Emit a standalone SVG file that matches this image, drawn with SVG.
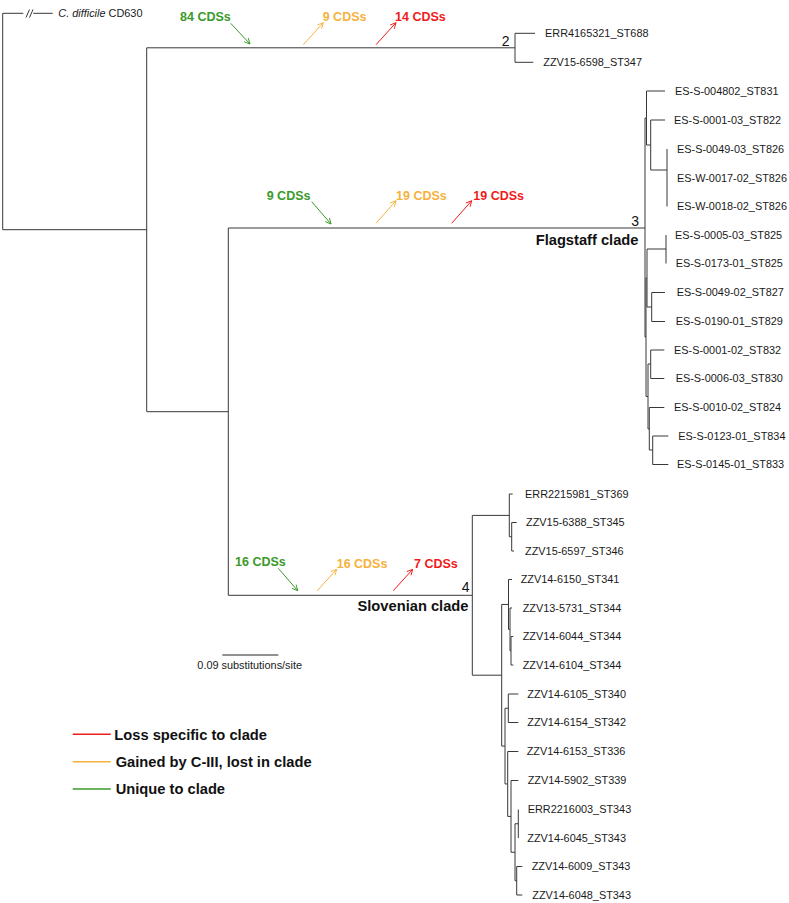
<svg xmlns="http://www.w3.org/2000/svg" width="789" height="903" viewBox="0 0 789 903">
<style>
.t{font-family:"Liberation Sans",Arial,sans-serif;font-size:10.9px;fill:#1a1a1a}
.br{fill:none;stroke:#383838;stroke-width:1}
.num{font-family:"Liberation Sans",Arial,sans-serif;font-size:14px;fill:#111}
.cl{font-family:"Liberation Sans",Arial,sans-serif;font-size:14.7px;font-weight:bold;fill:#111}
.cds{font-family:"Liberation Sans",Arial,sans-serif;font-size:12.5px;font-weight:bold}
.g{fill:#3a9a2a}.o{fill:#f6b23e}.r{fill:#f01b1b}
.ag{stroke:#3a9a2a;stroke-width:1;fill:none}
.ao{stroke:#f6b23e;stroke-width:1;fill:none}
.ar{stroke:#f01b1b;stroke-width:1;fill:none}
</style>
<defs>
<marker id="mg" viewBox="0 0 10 10" refX="9" refY="5" markerWidth="7" markerHeight="7" orient="auto" markerUnits="userSpaceOnUse"><path d="M1 1 L9 5 L1 9" fill="none" stroke="#3a9a2a" stroke-width="1.3"/></marker>
<marker id="mo" viewBox="0 0 10 10" refX="9" refY="5" markerWidth="7" markerHeight="7" orient="auto" markerUnits="userSpaceOnUse"><path d="M1 1 L9 5 L1 9" fill="none" stroke="#f6b23e" stroke-width="1.3"/></marker>
<marker id="mr" viewBox="0 0 10 10" refX="9" refY="5" markerWidth="7" markerHeight="7" orient="auto" markerUnits="userSpaceOnUse"><path d="M1 1 L9 5 L1 9" fill="none" stroke="#f01b1b" stroke-width="1.3"/></marker>
</defs>
<rect width="789" height="903" fill="#fff"/>

<g id="connectors">
<path class="br" d="M2.7 13.3 H23.3 M33.3 13.3 H52.7 M26 17.5 L29.5 9.5 M29.5 17.5 L33 9.5 M2.7 13.3 V229.7 H146.7 M146.7 47.8 V411.7 M146.7 47.8 H515 M515 33.3 V62.3 M515 33.3 H535 M515 62.3 H533.3 M146.7 411.7 H228.3 M228.3 228 V595.3 M228.3 228 H645 M228.3 595.3 H472.3"/>
<path class="br" d="M645 118 V337 M645 118 H646.5 M646.5 91 V145 M646.5 91 H665 M646.5 145 H650.7 M650.7 120 V170 M650.7 120 H665 M650.7 170 H667 M667 149 V206.5 M645 337 H646 M646 278 V396.5 M646 278 H647 M647 249 V307 M647 249 H666 M666 235 V263.5 M647 307 H651.7 M651.7 292.5 V321.5 M651.7 292.5 H665 M651.7 321.5 H665 M646 396.5 H648 M648 364 V429 M648 364 H650.7 M650.7 350 V378.5 M650.7 350 H664.3 M650.7 378.5 H664.3 M648 429 H649.3 M649.3 407.5 V450 M649.3 407.5 H664.3 M649.3 450 H652.7 M652.7 436 V464.5 M652.7 436 H668.3 M652.7 464.5 H668.3"/>
<path class="br" d="M472.3 515.4 V675.2 M472.3 515.4 H509.3 M509.3 494 V536.75 M509.3 494 H512.7 M509.3 536.75 H511.7 M511.7 522.5 V551 M511.7 522.5 H516.7 M511.7 551 H514 M472.3 675.2 H501.7 M501.7 604.45 V746.1 M501.7 604.45 H508.5 M508.5 579.5 V629.4 M508.5 579.5 H512 M508.5 629.4 H510 M510 608 V650.75 M510 608 H512 M510 650.75 H511 M511 636.5 V665 M511 636.5 H513.3 M511 665 H513.3 M501.7 746.1 H505 M505 708.25 V783.95 M505 708.25 H508.3 M508.3 694 V722.5 M508.3 694 H518.3 M508.3 722.5 H518.3 M505 783.95 H507.7 M507.7 751.5 V816.4 M507.7 751.5 H518.3 M507.7 816.4 H511 M511 780.5 V852.25 M511 780.5 H518.3 M511 852.25 H515 M515 823.75 V880.75 M515 823.75 H518.3 M518.3 809.5 V838 M515 880.75 H516.7 M516.7 866.5 V895 M516.7 866.5 H522.3 M516.7 895 H522.3"/>
<line class="ag" x1="230.7" y1="23.3" x2="250" y2="44" marker-end="url(#mg)"/>
<line class="ao" x1="303.3" y1="44.7" x2="323.3" y2="22.7" marker-end="url(#mo)"/>
<line class="ar" x1="376" y1="44.7" x2="396" y2="22.7" marker-end="url(#mr)"/>
<line class="ag" x1="311.7" y1="201.7" x2="331" y2="224" marker-end="url(#mg)"/>
<line class="ao" x1="376" y1="223.3" x2="396" y2="200.7" marker-end="url(#mo)"/>
<line class="ar" x1="451.7" y1="223.3" x2="471.7" y2="200.7" marker-end="url(#mr)"/>
<line class="ag" x1="278.3" y1="568.3" x2="297.7" y2="590.7" marker-end="url(#mg)"/>
<line class="ao" x1="317.3" y1="590.7" x2="336.7" y2="569.3" marker-end="url(#mo)"/>
<line class="ar" x1="393.3" y1="590.7" x2="412.7" y2="569.3" marker-end="url(#mr)"/>
</g>

<g id="outgroup"><text class="t" x="58.3" y="17.1"><tspan font-style="italic">C. difficile</tspan> CD630</text></g>

<g id="clade2">
<text class="num" x="509.5" y="46" text-anchor="end">2</text>
<text class="t" x="545" y="37.1">ERR4165321_ST688</text>
<text class="t" x="543.3" y="66.1">ZZV15-6598_ST347</text>
</g>

<g id="clade3">
<text class="num" x="639" y="225.5" text-anchor="end">3</text>
<text class="cl" x="638.5" y="244.5" text-anchor="end">Flagstaff clade</text>
<text class="t" x="675" y="94.8">ES-S-004802_ST831</text>
<text class="t" x="674" y="123.8">ES-S-0001-03_ST822</text>
<text class="t" x="677" y="152.8">ES-S-0049-03_ST826</text>
<text class="t" x="677" y="181.8">ES-W-0017-02_ST826</text>
<text class="t" x="677" y="210.3">ES-W-0018-02_ST826</text>
<text class="t" x="675" y="238.8">ES-S-0005-03_ST825</text>
<text class="t" x="675.7" y="267.3">ES-S-0173-01_ST825</text>
<text class="t" x="676.7" y="296.3">ES-S-0049-02_ST827</text>
<text class="t" x="675.7" y="325.3">ES-S-0190-01_ST829</text>
<text class="t" x="674" y="353.8">ES-S-0001-02_ST832</text>
<text class="t" x="675.7" y="382.3">ES-S-0006-03_ST830</text>
<text class="t" x="674" y="411.3">ES-S-0010-02_ST824</text>
<text class="t" x="678.3" y="439.8">ES-S-0123-01_ST834</text>
<text class="t" x="677" y="468.3">ES-S-0145-01_ST833</text>
</g>

<g id="clade4">
<text class="num" x="469.5" y="592.3" text-anchor="end">4</text>
<text class="cl" x="468.5" y="611" text-anchor="end">Slovenian clade</text>
<text class="t" x="525" y="497.8">ERR2215981_ST369</text>
<text class="t" x="526" y="526.3">ZZV15-6388_ST345</text>
<text class="t" x="525" y="554.8">ZZV15-6597_ST346</text>
<text class="t" x="520.7" y="583.3">ZZV14-6150_ST341</text>
<text class="t" x="522.7" y="611.8">ZZV13-5731_ST344</text>
<text class="t" x="522.7" y="640.3">ZZV14-6044_ST344</text>
<text class="t" x="522.7" y="668.8">ZZV14-6104_ST344</text>
<text class="t" x="527.3" y="697.8">ZZV14-6105_ST340</text>
<text class="t" x="527.3" y="726.3">ZZV14-6154_ST342</text>
<text class="t" x="526.7" y="755.3">ZZV14-6153_ST336</text>
<text class="t" x="527.7" y="784.3">ZZV14-5902_ST339</text>
<text class="t" x="527.7" y="813.3">ERR2216003_ST343</text>
<text class="t" x="527.3" y="841.8">ZZV14-6045_ST343</text>
<text class="t" x="531.7" y="870.3">ZZV14-6009_ST343</text>
<text class="t" x="532.3" y="898.8">ZZV14-6048_ST343</text>
</g>

<g id="cds-labels">
<text class="cds g" x="180" y="20.5">84 CDSs</text>
<text class="cds o" x="322.7" y="20.5">9 CDSs</text>
<text class="cds r" x="395" y="20.5">14 CDSs</text>
<text class="cds g" x="266.7" y="199.5">9 CDSs</text>
<text class="cds o" x="396" y="199.5">19 CDSs</text>
<text class="cds r" x="473.3" y="199.5">19 CDSs</text>
<text class="cds g" x="235" y="566.2">16 CDSs</text>
<text class="cds o" x="336.7" y="567.8">16 CDSs</text>
<text class="cds r" x="414" y="567.8">7 CDSs</text>
</g>

<g id="scale">
<line x1="222.3" y1="655" x2="278.3" y2="655" stroke="#222" stroke-width="1"/>
<text class="t" x="249.7" y="668.8" text-anchor="middle">0.09 substitutions/site</text>
</g>

<g id="legend">
<line x1="72.7" y1="734.3" x2="110.7" y2="734.3" stroke="#f01b1b" stroke-width="1.6"/>
<text class="cl" x="114.3" y="739.5">Loss specific to clade</text>
<line x1="72.7" y1="761.7" x2="110.7" y2="761.7" stroke="#f6b23e" stroke-width="1.6"/>
<text class="cl" x="115.7" y="767">Gained by C-III, lost in clade</text>
<line x1="72.7" y1="789" x2="110.7" y2="789" stroke="#3a9a2a" stroke-width="1.6"/>
<text class="cl" x="115.7" y="794.3">Unique to clade</text>
</g>
</svg>
